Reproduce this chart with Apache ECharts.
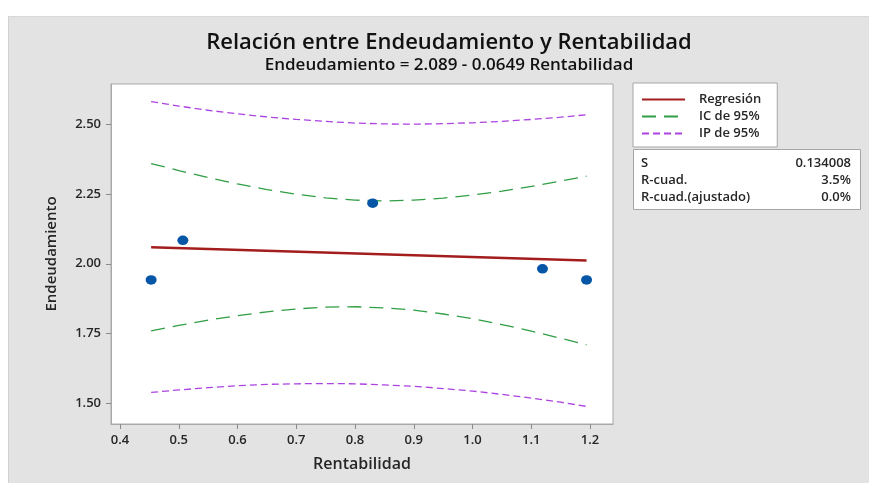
<!DOCTYPE html>
<html>
<head>
<meta charset="utf-8">
<script src="https://cdn.jsdelivr.net/npm/echarts@6/dist/echarts.min.js"></script>
<style>
  html, body { margin: 0; padding: 0; background: #ffffff; }
  #panel { position: absolute; left: 8px; top: 16px; width: 861px; height: 467px;
           background: #e3e3e3; border-left: 1px solid #d2d2d2; border-top: 1px solid #d8d8d8; box-sizing: border-box; }
  #chart { position: absolute; left: 0; top: 0; width: 869px; height: 483px; }
</style>
</head>
<body>
<div id="panel"></div>
<div id="chart"></div>
<script>
// Observations
const rentabilidad = [0.453, 0.507, 0.830, 1.119, 1.194];
const endeudamiento = [1.942, 2.084, 2.217, 1.982, 1.942];

// Fitted regression line (end points)
const fitX = [0.453, 1.194];
const fitY = [2.0596, 2.0115];

// Confidence / prediction bands
const bandX   = [0.453, 0.50, 0.55, 0.60, 0.65, 0.70, 0.75, 0.80, 0.85, 0.90, 0.95, 1.00, 1.05, 1.10, 1.15, 1.194];
const ciUpper = [2.359, 2.334, 2.309, 2.286, 2.266, 2.249, 2.236, 2.228, 2.225, 2.228, 2.235, 2.246, 2.260, 2.277, 2.296, 2.314];
const ciLower = [1.760, 1.779, 1.798, 1.814, 1.828, 1.838, 1.845, 1.846, 1.842, 1.834, 1.820, 1.803, 1.782, 1.759, 1.733, 1.710];
const piUpper = [2.581, 2.565, 2.550, 2.537, 2.526, 2.517, 2.510, 2.504, 2.501, 2.500, 2.502, 2.505, 2.510, 2.517, 2.525, 2.534];
const piLower = [1.539, 1.548, 1.556, 1.563, 1.568, 1.570, 1.571, 1.570, 1.566, 1.561, 1.553, 1.544, 1.532, 1.519, 1.504, 1.489];

// Tick labels
const xTicks = [0.4, 0.5, 0.6, 0.7, 0.8, 0.9, 1.0, 1.1, 1.2];
const yTicks = [1.5, 1.75, 2.0, 2.25, 2.5];

// Stats table
const statNames  = ['S', 'R-cuad.', 'R-cuad.(ajustado)'];
const statValues = ['0.134008', '3.5%', '0.0%'];

const zip = (a, b) => a.map((v, i) => [v, b[i]]);
const FONT = 'Open Sans';
const TXT = '#262626';

const chart = echarts.init(document.getElementById('chart'), null, { renderer: 'canvas' });

const statGraphics = [
  { type: 'rect', shape: { x: 633.5, y: 149.5, width: 227, height: 60 },
    style: { fill: '#ffffff', stroke: '#a6a6a6', lineWidth: 1 } }
];
statNames.forEach((n, i) => {
  statGraphics.push({ type: 'text', x: 641, y: 163 + i * 17,
    style: { text: n, fill: TXT, font: '600 13px "' + FONT + '"', textVerticalAlign: 'middle', textAlign: 'left' } });
  statGraphics.push({ type: 'text', x: 851, y: 163 + i * 17,
    style: { text: statValues[i], fill: TXT, font: '600 13px "' + FONT + '"', textVerticalAlign: 'middle', textAlign: 'right' } });
});

chart.setOption({
  backgroundColor: 'transparent',
  animation: false,
  textStyle: { fontFamily: FONT },
  title: [
    { text: 'Relación entre Endeudamiento y Rentabilidad', left: 444, top: 27, textAlign: 'center',
      textStyle: { fontFamily: FONT, fontSize: 22, fontWeight: 600, color: '#111' } },
    { text: 'Endeudamiento = 2.089 - 0.0649 Rentabilidad', left: 444, top: 52, textAlign: 'center',
      textStyle: { fontFamily: FONT, fontSize: 17, fontWeight: 600, color: '#111' } }
  ],
  legend: {
    orient: 'vertical', left: 633, top: 83,
    backgroundColor: '#ffffff', borderColor: '#a6a6a6', borderWidth: 1, borderRadius: 0,
    padding: [10, 16, 7, 8],
    itemWidth: 43, itemHeight: 14, itemGap: 4,
    itemStyle: { opacity: 0 },
    textStyle: { fontFamily: FONT, fontSize: 13, fontWeight: 600, color: TXT, padding: [0, 0, 0, 9] },
    data: ['Regresión', 'IC de 95%', 'IP de 95%']
  },
  grid: { left: 111, top: 84, right: 256, bottom: 59, show: true,
          backgroundColor: '#ffffff', borderColor: '#a8a8a8', borderWidth: 1, containLabel: false },
  xAxis: {
    type: 'value', min: 0.3847, max: 1.239,
    name: 'Rentabilidad', nameLocation: 'middle', nameGap: 32,
    nameTextStyle: { fontFamily: FONT, fontSize: 16, fontWeight: 600, color: TXT },
    axisLine: { show: true, lineStyle: { color: '#a8a8a8' } },
    axisTick: { show: true, length: 5, inside: false, customValues: xTicks, lineStyle: { color: '#8a8a8a' } },
    axisLabel: { customValues: xTicks, formatter: v => v.toFixed(1), margin: 10,
                 fontFamily: FONT, fontSize: 13, fontWeight: 600, color: TXT },
    splitLine: { show: false }
  },
  yAxis: {
    type: 'value', min: 1.426, max: 2.644,
    name: 'Endeudamiento', nameLocation: 'middle', nameGap: 52, nameRotate: 90,
    nameTextStyle: { fontFamily: FONT, fontSize: 15, fontWeight: 600, color: TXT },
    axisLine: { show: true, lineStyle: { color: '#a8a8a8' } },
    axisTick: { show: true, length: 5, inside: false, customValues: yTicks, lineStyle: { color: '#8a8a8a' } },
    axisLabel: { customValues: yTicks, formatter: v => v.toFixed(2), margin: 10,
                 fontFamily: FONT, fontSize: 13, fontWeight: 600, color: TXT },
    splitLine: { show: false }
  },
  series: [
    { name: 'Regresión', type: 'line', data: zip(fitX, fitY), symbol: 'none',
      lineStyle: { color: '#a31d1d', width: 2.5 }, itemStyle: { color: '#a31d1d' }, z: 4 },
    { name: 'IC de 95%', type: 'line', data: zip(bandX, ciUpper), symbol: 'none',
      lineStyle: { color: '#2f9e44', width: 1.3, type: [14, 8] }, itemStyle: { color: '#2f9e44' } },
    { name: 'IC de 95%', type: 'line', data: zip(bandX, ciLower), symbol: 'none',
      lineStyle: { color: '#2f9e44', width: 1.3, type: [14, 8] }, itemStyle: { color: '#2f9e44' } },
    { name: 'IP de 95%', type: 'line', data: zip(bandX, piUpper), symbol: 'none',
      lineStyle: { color: '#ac42e0', width: 1.3, type: [7, 4] }, itemStyle: { color: '#ac42e0' } },
    { name: 'IP de 95%', type: 'line', data: zip(bandX, piLower), symbol: 'none',
      lineStyle: { color: '#ac42e0', width: 1.3, type: [7, 4] }, itemStyle: { color: '#ac42e0' } },
    { name: 'Datos', type: 'scatter', data: zip(rentabilidad, endeudamiento), symbol: 'circle',
      symbolSize: [11, 9.5], itemStyle: { color: '#0556a6', opacity: 1 }, z: 5 }
  ],
  graphic: statGraphics
});
</script>
</body>
</html>
